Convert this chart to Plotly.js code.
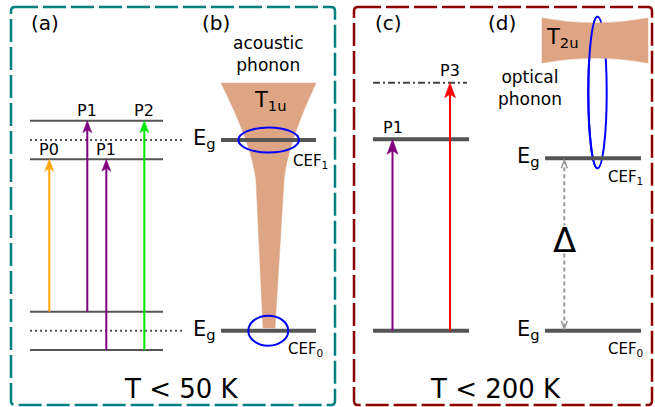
<!DOCTYPE html>
<html><head><meta charset="utf-8">
<script src="https://cdn.plot.ly/plotly-3.0.1.min.js"></script>
<style>html,body{margin:0;padding:0;background:#fff;} #chart{width:655px;height:407px;}</style>
</head><body><div id="chart"></div>
<script>
// ---------- data (diagram coordinates: x to the right, y = position down the page) ----------
// panel (a): transition scheme
const aSolidLevels = [120.7, 159.3, 311.7, 350.0];
const aDottedLevels = [140.0, 330.7];
const aSolidSpan = [30, 163];
const aDottedSpan = [30, 182];
const aTransitions = ['P0', 'P1', 'P1', 'P2'];
const aTransX = [49.3, 87.3, 106.3, 144.3];
const aTransFrom = [311.7, 311.7, 350.0, 350.0];
const aTransTo = [159.3, 120.7, 159.3, 120.7];
// panel (b): CEF levels coupled to acoustic phonon
const bLevels = [140.0, 330.7];
const bLevelSpan = [221, 316];
const bLevelNames = ['CEF<sub>1</sub>', 'CEF<sub>0</sub>'];
const bCouplingX = [268.7, 268.3];
const bCouplingRx = [30.3, 20];
const bCouplingRy = [12.5, 15];
const bBandY = [83, 145, 180, 328];
const bBandLeft = [221, 252, 256, 263];
const bBandRight = [316, 287, 284, 275];
// panel (c)
const cLevels = [82.7, 139.3, 330.7];
const cLevelSpan = [373, 469];
const cTransitions = ['P1', 'P3'];
const cTransX = [392.5, 450];
const cTransFrom = [330.7, 330.7];
const cTransTo = [139.3, 82.7];
// panel (d): CEF levels coupled to optical phonon
const dLevels = [158.3, 330.7];
const dLevelSpan = [545, 641];
const dLevelNames = ['CEF<sub>1</sub>', 'CEF<sub>0</sub>'];
const dGapX = 564.3;
const dGapLabelY = 239.5;
const dBandX = [542, 648];
const dBandTop = [18, 28];
const dBandBottom = [63, 53];
const dLoopCenter = [597.5, 92.5];
const dLoopRadius = [9.2, 75.8];
// frames
const frameA = [11, 7, 335, 405];
const frameB = [354, 7, 652, 405];
const temperatures = ['T < 50 K', 'T < 200 K'];

// ---------- styles ----------
const FONT = 'DejaVu Sans, sans-serif';
const LEVEL = '#555555';
const TAN = '#dea584';
const BLUE = '#0000ff';
const aColors = ['#ffa500', '#800080', '#800080', '#00e600'];
const cColors = ['#800080', '#ff0000'];

const shapes = [];
const annotations = [];
const traces = [];

function line(x0, y0, x1, y1, color, width, dash, layer) {
  shapes.push({type: 'line', xref: 'x', yref: 'y', x0, y0, x1, y1,
    line: {color, width, dash: dash || 'solid'}, layer: layer || 'above'});
}
function path(d, fill, color, width, dash) {
  shapes.push({type: 'path', xref: 'x', yref: 'y', path: d, fillcolor: fill || 'rgba(0,0,0,0)',
    line: {color: color || 'rgba(0,0,0,0)', width: width || 0, dash: dash || 'solid'}, layer: 'above'});
}
function label(x, y, text, size, xanchor, color) {
  annotations.push({x, y, xref: 'x', yref: 'y', text, showarrow: false, xanchor: xanchor || 'center',
    yanchor: 'middle', font: {family: FONT, size, color: color || '#000'}, borderpad: 0});
}
function arrow(x, yFrom, yTo, color, len, half, notch) {
  line(x, yFrom, x, yTo + len - notch, color, 2);
  path(`M${x},${yTo} L${x + half},${yTo + len} L${x},${yTo + len - notch} L${x - half},${yTo + len} Z`, color, color, 0.5);
}
function halfEllipse(cx, cy, rx, ry, side) {
  const k = 0.5523, s = side;
  return `M${cx},${cy - ry} C${cx + s * k * rx},${cy - ry} ${cx + s * rx},${cy - k * ry} ${cx + s * rx},${cy} ` +
         `C${cx + s * rx},${cy + k * ry} ${cx + s * k * rx},${cy + ry} ${cx},${cy + ry}`;
}
function frame(f, color) {
  const [x0, y0, x1, y1] = f, r = 4;
  path(`M${x0 + r},${y0} L${x1 - r},${y0} Q${x1},${y0} ${x1},${y0 + r} L${x1},${y1 - r} Q${x1},${y1} ${x1 - r},${y1} ` +
       `L${x0 + r},${y1} Q${x0},${y1} ${x0},${y1 - r} L${x0},${y0 + r} Q${x0},${y0} ${x0 + r},${y0} Z`,
       null, color, 2.5, '23px,5px');
}

// frames
frame(frameA, '#008080');
frame(frameB, '#8b0000');

// ---- panel (a)
aSolidLevels.forEach(y => line(aSolidSpan[0], y, aSolidSpan[1], y, LEVEL, 2));
aDottedLevels.forEach(y => line(aDottedSpan[0], y, aDottedSpan[1], y, LEVEL, 2, '2px,3px'));
aTransitions.forEach((name, i) => {
  arrow(aTransX[i], aTransFrom[i], aTransTo[i], aColors[i], 12, 4.5, 3);
  label(aTransX[i], aTransTo[i] - 10, name, 16);
});
label(45, 23, '(a)', 20);

// ---- panel (b)
path(`M${bBandLeft[0]},${bBandY[0]} Q${bBandLeft[1]},${bBandY[1]} ${bBandLeft[2]},${bBandY[2]} L${bBandLeft[3]},${bBandY[3]} ` +
     `L${bBandRight[3]},${bBandY[3]} L${bBandRight[2]},${bBandY[2]} Q${bBandRight[1]},${bBandY[1]} ${bBandRight[0]},${bBandY[0]} Z`, TAN, TAN, 0.5);
bLevels.forEach((y, i) => {
  line(bLevelSpan[0], y, bLevelSpan[1], y, LEVEL, 4);
  label(bLevelSpan[0] - 4, y - 1, 'E<sub>g</sub>', 21, 'right');
});
bLevels.forEach((y, i) => {
  path(halfEllipse(bCouplingX[i], y, bCouplingRx[i], bCouplingRy[i], 1) + ' ' +
       halfEllipse(bCouplingX[i], y, bCouplingRx[i], bCouplingRy[i], -1), null, BLUE, 2);
});
label(bLevelSpan[1] - 24, bLevels[0] + 21, bLevelNames[0], 15, 'left');
label(bLevelSpan[1] - 29, bLevels[1] + 19, bLevelNames[1], 15, 'left');
label(253, 101, 'T<sub>1u</sub>', 21, 'left');
label(268, 54, 'acoustic<br>phonon', 17);
label(216, 23, '(b)', 20);
label(181, 389, temperatures[0], 26);

// ---- panel (c)
line(cLevelSpan[0], cLevels[0], cLevelSpan[1] - 2, cLevels[0], '#444444', 2, '7px,3px,2px,3px');
line(cLevelSpan[0], cLevels[1], cLevelSpan[1], cLevels[1], LEVEL, 4);
line(cLevelSpan[0], cLevels[2], cLevelSpan[1], cLevels[2], LEVEL, 4);
cTransitions.forEach((name, i) => {
  arrow(cTransX[i], cTransFrom[i], cTransTo[i], cColors[i], 15, 5.5, 3.5);
  label(cTransX[i], cTransTo[i] - 12, name, 16);
});
label(388, 23, '(c)', 20);

// ---- panel (d)
const [lcx, lcy] = dLoopCenter, [lrx, lry] = dLoopRadius;
path(halfEllipse(lcx, lcy, lrx, lry, 1) + ' ' + halfEllipse(lcx, lcy, lrx, lry, -1), null, BLUE, 2);
path(`M${dBandX[0]},${dBandTop[0]} Q${(dBandX[0] + dBandX[1]) / 2},${dBandTop[1]} ${dBandX[1]},${dBandTop[0]} ` +
     `L${dBandX[1]},${dBandBottom[0]} Q${(dBandX[0] + dBandX[1]) / 2},${dBandBottom[1]} ${dBandX[0]},${dBandBottom[0]} Z`, TAN, TAN, 0.5);
path(halfEllipse(lcx, lcy, lrx, lry, -1), null, BLUE, 2);
dLevels.forEach((y, i) => {
  line(dLevelSpan[0], y, dLevelSpan[1], y, LEVEL, 4);
  label(dLevelSpan[0] - 4, y - 1, 'E<sub>g</sub>', 21, 'right');
  label(dLevelSpan[1] - 34, y + 19, dLevelNames[i], 15, 'left');
});
// gap arrow (dotted, open heads at both ends), interrupted by the label
const gTop = dLevels[0] + 2, gBot = dLevels[1] - 2, gHalf = 14;
line(dGapX, gTop, dGapX, dGapLabelY - gHalf, '#999999', 2, '4px,3px');
line(dGapX, dGapLabelY + gHalf, dGapX, gBot, '#999999', 2, '4px,3px');
path(`M${dGapX - 3},${gTop + 8} L${dGapX},${gTop} L${dGapX + 3},${gTop + 8}`, null, '#999999', 1.5);
path(`M${dGapX - 3},${gBot - 8} L${dGapX},${gBot} L${dGapX + 3},${gBot - 8}`, null, '#999999', 1.5);
label(dGapX, dGapLabelY, 'Δ', 34);
label(545, 38, 'T<sub>2u</sub>', 21, 'left');
label(497, 88, 'optical<br>phonon', 17, 'left');
label(502, 23, '(d)', 20);
label(495.5, 389, temperatures[1], 26);

const layout = {
  width: 655, height: 407, margin: {l: 0, r: 0, t: 0, b: 0},
  paper_bgcolor: '#fff', plot_bgcolor: '#fff', showlegend: false,
  xaxis: {range: [0, 655], visible: false, fixedrange: true},
  yaxis: {range: [407, 0], visible: false, fixedrange: true},
  shapes, annotations
};
traces.push({x: [0], y: [0], mode: 'markers', marker: {opacity: 0}, hoverinfo: 'skip'});
Plotly.newPlot('chart', traces, layout, {staticPlot: true, displayModeBar: false});
</script></body></html>
